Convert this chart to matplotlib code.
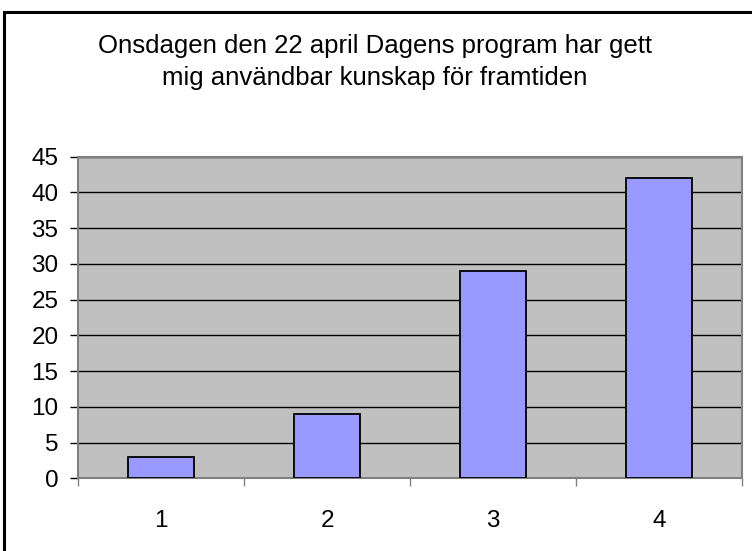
import matplotlib.pyplot as plt
from matplotlib.patches import Rectangle
import numpy as np

plt.rcParams['font.family'] = ['Liberation Sans', 'DejaVu Sans']

# data
categories = ['1', '2', '3', '4']
values = [3, 9, 29, 42]
title = 'Onsdagen den 22 april Dagens program har gett\nmig användbar kunskap för framtiden'

fig = plt.figure(figsize=(7.52, 5.51), dpi=100)
fig.patch.set_facecolor('white')

# outer chart border (extends past the image on right/bottom)
fig.patches.append(Rectangle((4 / 752, -0.05), 1.1, 1 - 12 / 551 + 0.05,
                             transform=fig.transFigure, fill=False,
                             edgecolor='black', linewidth=2.2, zorder=0))

ax = fig.add_axes([78 / 752, (551 - 478.3) / 551, 664 / 752, (478.3 - 156.6) / 551])
ax.set_facecolor('#C0C0C0')

x = np.arange(len(categories))
ax.bar(x, values, width=0.4, color='#9999FF', edgecolor='black', linewidth=1.3, zorder=3)

ax.set_xlim(-0.5, len(categories) - 0.5)
ax.set_ylim(0, 45)
ax.set_yticks(np.arange(0, 46, 5))
ax.yaxis.grid(True, color='black', linewidth=1.0, zorder=1)
ax.set_axisbelow(True)

# ticks between categories, labels at category centres
ax.set_xticks(np.arange(-0.5, len(categories), 1.0))
ax.set_xticklabels([])
ax.set_xticks(x, minor=True)
ax.set_xticklabels(categories, minor=True, fontsize=17.5)
ax.tick_params(axis='x', which='major', length=6, width=1, color='#808080', direction='out')
ax.tick_params(axis='x', which='minor', length=0, pad=23)
ax.tick_params(axis='y', length=6, width=1, color='black', labelsize=17.5, pad=8)

for side in ['top', 'right', 'left', 'bottom']:
    ax.spines[side].set_color('#808080')
    ax.spines[side].set_linewidth(1.5)

fig.text(375 / 752, 1 - 62 / 551, title, ha='center', va='center',
         fontsize=18.5, linespacing=1.45)

plt.savefig('out.png', dpi=100)
